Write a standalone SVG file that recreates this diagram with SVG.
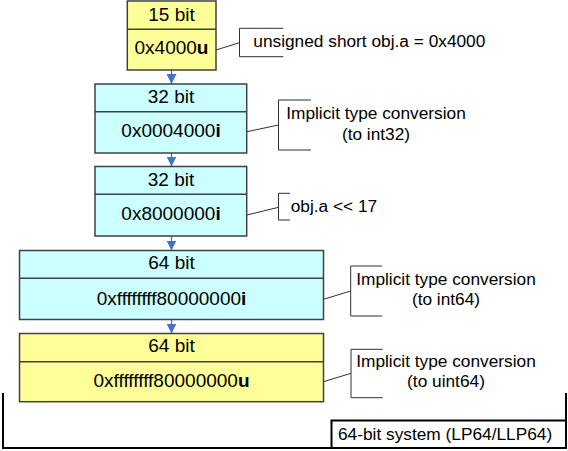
<svg xmlns="http://www.w3.org/2000/svg" width="568" height="451" viewBox="0 0 568 451">
<style>
.box{stroke:#404040;stroke-width:1.5}
.y{fill:#FFFF99}
.c{fill:#CCFFFF}
.div{stroke:#404040;stroke-width:1.5;fill:none}
.bt{font-family:"Liberation Sans",Arial,sans-serif;font-size:19px;fill:#000;text-anchor:middle}
.ct{font-family:"Liberation Sans",Arial,sans-serif;font-size:17.3px;fill:#000}
.mid{text-anchor:middle}
.br{stroke:#303030;stroke-width:1;fill:none}
.conn{stroke:#4472C4;stroke-width:1.3;fill:none}
.frame{stroke:#000;stroke-width:2;fill:none}
b{font-weight:bold}
</style>
<defs>
<marker id="ah" markerWidth="10" markerHeight="10" refX="10" refY="5" orient="auto" markerUnits="userSpaceOnUse">
<path d="M0,0 L10,5 L0,10 Z" fill="#4472C4"/>
</marker>
</defs>
<g id="connectors">
<line class="conn" x1="171.5" y1="70" x2="171.5" y2="84" marker-end="url(#ah)"/>
<line class="conn" x1="171.5" y1="153" x2="171.5" y2="166.5" marker-end="url(#ah)"/>
<line class="conn" x1="171.5" y1="236" x2="171.5" y2="250.5" marker-end="url(#ah)"/>
<line class="conn" x1="171.5" y1="319.5" x2="171.5" y2="333.5" marker-end="url(#ah)"/>
<line class="br" x1="216" y1="50" x2="239.5" y2="42.7"/>
<line class="br" x1="247" y1="131.7" x2="278.5" y2="125"/>
<line class="br" x1="247" y1="215" x2="278.5" y2="207.3"/>
<line class="br" x1="323.5" y1="299.3" x2="350.7" y2="291"/>
<line class="br" x1="323.5" y1="381.7" x2="351" y2="373.3"/>
</g>
<g id="node1">
<rect class="box y" x="127.3" y="1" width="88.7" height="69"/>
<line class="div" x1="127.3" y1="29.3" x2="216" y2="29.3"/>
<text class="bt" x="171.5" y="21">15 bit</text>
<text class="bt" x="171.5" y="54">0x4000<tspan font-weight="bold">u</tspan></text>
</g>
<g id="node2">
<rect class="box c" x="95" y="84" width="151.7" height="69"/>
<line class="div" x1="95" y1="111.7" x2="246.7" y2="111.7"/>
<text class="bt" x="171" y="102.7">32 bit</text>
<text class="bt" x="171" y="137.3">0x0004000<tspan font-weight="bold">i</tspan></text>
</g>
<g id="node3">
<rect class="box c" x="95" y="166.5" width="151.7" height="69.5"/>
<line class="div" x1="95" y1="194.3" x2="246.7" y2="194.3"/>
<text class="bt" x="171" y="185.5">32 bit</text>
<text class="bt" x="171" y="220">0x8000000<tspan font-weight="bold">i</tspan></text>
</g>
<g id="node4">
<rect class="box c" x="19.5" y="250.5" width="304" height="69"/>
<line class="div" x1="19.5" y1="278.3" x2="323.5" y2="278.3"/>
<text class="bt" x="171.5" y="269.3">64 bit</text>
<text class="bt" x="171.5" y="304.5">0xffffffff80000000<tspan font-weight="bold">i</tspan></text>
</g>
<g id="node5">
<rect class="box y" x="19.5" y="333.5" width="304" height="68.2"/>
<line class="div" x1="19.5" y1="361.7" x2="323.5" y2="361.7"/>
<text class="bt" x="171.5" y="352.3">64 bit</text>
<text class="bt" x="171.5" y="387">0xffffffff80000000<tspan font-weight="bold">u</tspan></text>
</g>
<g id="callout1">
<path class="br" d="M283.3,28.3 H239.5 V56.7 H283.3"/>
<text class="ct" x="253.3" y="46.7">unsigned short obj.a = 0x4000</text>
</g>
<g id="callout2">
<path class="br" d="M311,100 H278.5 V150 H311"/>
<text class="ct mid" x="376" y="119.3">Implicit type conversion</text>
<text class="ct mid" x="376" y="140.3">(to int32)</text>
</g>
<g id="callout3">
<path class="br" d="M290,193.3 H278.5 V220 H290"/>
<text class="ct" x="290.7" y="211.7">obj.a &lt;&lt; 17</text>
</g>
<g id="callout4">
<path class="br" d="M382.3,266 H350.7 V316 H382.3"/>
<text class="ct mid" x="446" y="285">Implicit type conversion</text>
<text class="ct mid" x="446" y="305">(to int64)</text>
</g>
<g id="callout5">
<path class="br" d="M382.7,349.3 H351 V397.7 H382.7"/>
<text class="ct mid" x="446" y="366.7">Implicit type conversion</text>
<text class="ct mid" x="446" y="387">(to uint64)</text>
</g>
<g id="system">
<path class="frame" d="M3,393 V448 H566 V393"/>
<rect class="frame" x="331.5" y="420.5" width="234.5" height="27.5" fill="#fff"/>
<text class="ct" x="338" y="440">64-bit system (LP64/LLP64)</text>
</g>
</svg>
